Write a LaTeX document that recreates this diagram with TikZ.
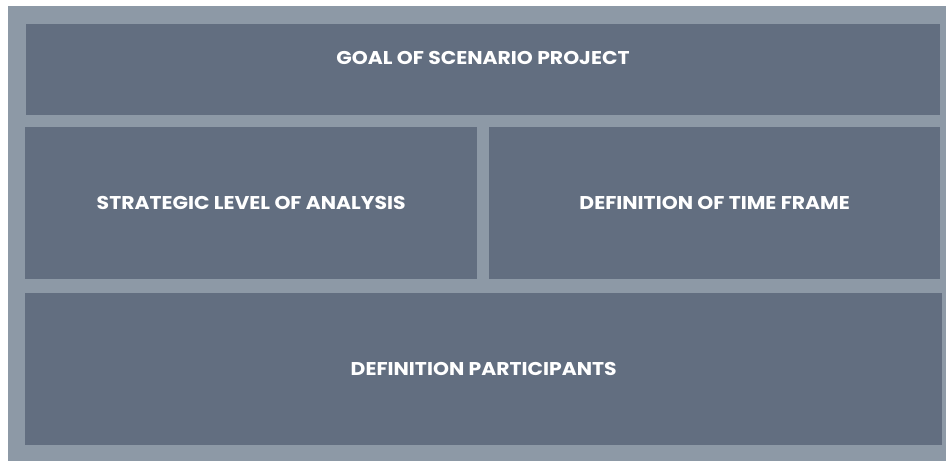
\documentclass[tikz,border=0pt]{standalone}
\usepackage{fontspec}
\setmainfont{Poppins}[FakeStretch=1.1]
\usetikzlibrary{positioning}
\definecolor{framegray}{HTML}{8D99A6}
\definecolor{boxgray}{HTML}{626E80}

\begin{document}
\begin{tikzpicture}[x=1pt, y=-1pt,
    box/.style={rectangle, fill=boxgray, draw=none, anchor=north west, inner sep=0pt},
    title/.style={text=white, font=\fontsize{18.5}{22}\selectfont\bfseries, inner sep=0pt}
	]
		\useasboundingbox (0,0) rectangle (946,461);
		\fill[framegray] (8,6) rectangle (946,461);

		\node[box, minimum width=914pt, minimum height=91pt] (goal) at (26,24) {};
		\node[title] (goaltext) at (483,58) {GOAL OF SCENARIO PROJECT};

		\node[box, minimum width=452pt, minimum height=152pt] (level) at (25,127) {};
		\node[title] at (level.center) {STRATEGIC LEVEL OF ANALYSIS};

		\node[box, minimum width=451pt, minimum height=152pt] (time) at (489,127) {};
		\node[title] at (time.center) {DEFINITION OF TIME FRAME};

		\node[box, minimum width=917pt, minimum height=152pt] (part) at (25,293) {};
		\node[title] at (part.center) {DEFINITION PARTICIPANTS};

	\end{tikzpicture}
\end{document}
